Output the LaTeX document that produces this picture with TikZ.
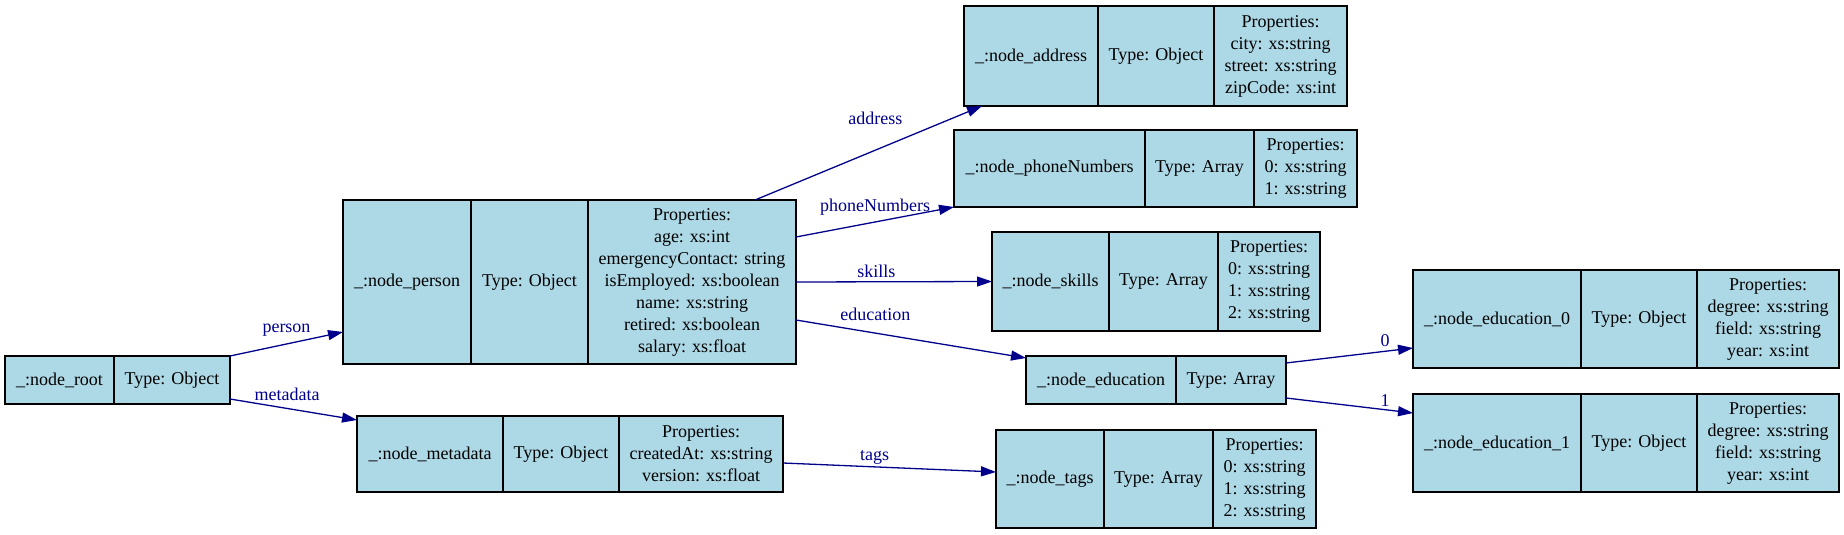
\documentclass[tikz,border=0pt]{standalone}
\usepackage{fontspec}
\setmainfont{Liberation Serif}
\usetikzlibrary{arrows.meta,positioning}
\definecolor{recfill}{HTML}{ADD8E6}
\definecolor{edgeblue}{HTML}{00008B}

\begin{document}
\begin{tikzpicture}[x=1pt, y=-1pt,
  field/.style 2 args={draw, fill=recfill, line width=1.3pt, outer sep=0pt, inner sep=2pt,
    align=center, minimum width=#1pt, minimum height=#2pt, font=\fontsize{18}{22}\selectfont},
  link/.style={-{Triangle[length=15pt,width=10pt]}, edgeblue, line width=1.3pt},
  lbl/.style={anchor=south, text=edgeblue, inner sep=2pt, text height=12pt, text depth=4pt,
    font=\fontsize{18}{22}\selectfont}]
  \useasboundingbox (0,0) rectangle (1844,535);

  % Root record
  \node[field={109}{48}, anchor=north west] (rootN) at (5,356) {\_:node\_root};
  \node[field={116}{48}, right=0pt of rootN] (rootT) {Type: Object};

  % Person record
  \node[field={128}{164}, anchor=north west] (persN) at (343,200) {\_:node\_person};
  \node[field={117}{164}, right=0pt of persN] (persT) {Type: Object};
  \node[field={208}{164}, right=0pt of persT] (persP) {Properties:\\ age: xs:int\\ emergencyContact: string\\ isEmployed: xs:boolean\\ name: xs:string\\ retired: xs:boolean\\ salary: xs:float};

  % Metadata record
  \node[field={146}{76}, anchor=north west] (metaN) at (357,416) {\_:node\_metadata};
  \node[field={116}{76}, right=0pt of metaN] (metaT) {Type: Object};
  \node[field={164}{76}, right=0pt of metaT] (metaP) {Properties:\\ createdAt: xs:string\\ version: xs:float};

  % Address record
  \node[field={134}{100}, anchor=north west] (addrN) at (964,6) {\_:node\_address};
  \node[field={116}{100}, right=0pt of addrN] (addrT) {Type: Object};
  \node[field={133}{100}, right=0pt of addrT] (addrP) {Properties:\\ city: xs:string\\ street: xs:string\\ zipCode: xs:int};

  % Phone numbers record
  \node[field={191}{77}, anchor=north west] (phonN) at (954,130) {\_:node\_phoneNumbers};
  \node[field={109}{77}, right=0pt of phonN] (phonT) {Type: Array};
  \node[field={103}{77}, right=0pt of phonT] (phonP) {Properties:\\ 0: xs:string\\ 1: xs:string};

  % Skills record
  \node[field={117}{99}, anchor=north west] (skilN) at (992,232) {\_:node\_skills};
  \node[field={109}{99}, right=0pt of skilN] (skilT) {Type: Array};
  \node[field={102}{99}, right=0pt of skilT] (skilP) {Properties:\\ 0: xs:string\\ 1: xs:string\\ 2: xs:string};

  % Education record
  \node[field={150}{48}, anchor=north west] (educN) at (1026,356) {\_:node\_education};
  \node[field={110}{48}, right=0pt of educN] (educT) {Type: Array};

  % Tags record
  \node[field={108}{98}, anchor=north west] (tagsN) at (996,430) {\_:node\_tags};
  \node[field={109}{98}, right=0pt of tagsN] (tagsT) {Type: Array};
  \node[field={103}{98}, right=0pt of tagsT] (tagsP) {Properties:\\ 0: xs:string\\ 1: xs:string\\ 2: xs:string};

  % Education items
  \node[field={168}{98}, anchor=north west] (ed0N) at (1413,270) {\_:node\_education\_0};
  \node[field={116}{98}, right=0pt of ed0N] (ed0T) {Type: Object};
  \node[field={142}{98}, right=0pt of ed0T] (ed0P) {Properties:\\ degree: xs:string\\ field: xs:string\\ year: xs:int};
  \node[field={168}{98}, anchor=north west] (ed1N) at (1413,394) {\_:node\_education\_1};
  \node[field={116}{98}, right=0pt of ed1N] (ed1T) {Type: Object};
  \node[field={142}{98}, right=0pt of ed1T] (ed1P) {Properties:\\ degree: xs:string\\ field: xs:string\\ year: xs:int};

  % Links
  \draw[link] (rootT.north east) -- node[lbl, pos=.5, yshift=5pt] {person} ([yshift=-50pt]persN.west);
  \draw[link] ([yshift=-19pt]rootT.east) -- node[lbl, pos=.45, yshift=1pt] {metadata} ([yshift=34pt]metaN.west);
  \draw[link] ([xshift=63pt]persP.north) -- node[lbl, pos=.53, yshift=19pt] {address} ([xshift=-49pt]addrN.south);
  \draw[link] ([yshift=45pt]persP.east) -- node[lbl, pos=.5, yshift=4pt] {phoneNumbers} (phonN.south west);
  \draw[link] (persP.east) -- node[lbl, pos=.41, yshift=-2pt] {skills} (skilN.west);
  \draw[link] ([yshift=-38pt]persP.east) -- node[lbl, pos=.345, yshift=6pt] {education} ([yshift=-2pt]educN.north west);
  \draw[link] ([yshift=-9pt]metaP.east) -- node[lbl, pos=.43] {tags} ([yshift=7pt]tagsN.west);
  \draw[link] ([yshift=17pt]educT.east) -- node[lbl, pos=.78, yshift=-2pt] {0} ([yshift=-29pt]ed0N.west);
  \draw[link] ([yshift=-18pt]educT.east) -- node[lbl, pos=.78, yshift=-3pt] {1} ([yshift=30pt]ed1N.west);
\end{tikzpicture}
\end{document}
